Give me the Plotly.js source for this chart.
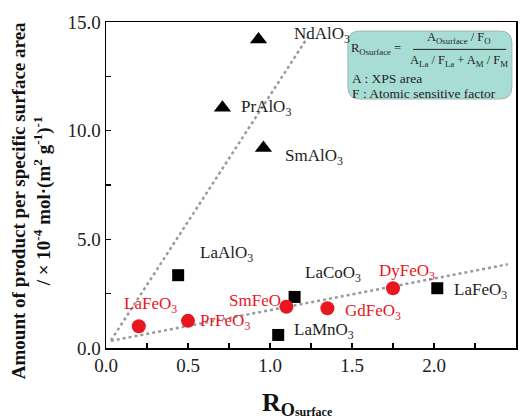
<!DOCTYPE html>
<html>
<head>
<meta charset="utf-8">
<script src="https://cdn.plot.ly/plotly-3.0.1.min.js"></script>
<style>html,body{margin:0;padding:0;background:#fff;}#chart{width:527px;height:420px;}</style>
</head>
<body>
<div id="chart"></div>
<script>
// ---- data ----
const alNames = ['NdAlO<sub>3</sub>', 'PrAlO<sub>3</sub>', 'SmAlO<sub>3</sub>'];
const alX = [0.93, 0.71, 0.96];
const alY = [14.2, 11.05, 9.2];

const sqNames = ['LaAlO<sub>3</sub>', 'LaCoO<sub>3</sub>', 'LaMnO<sub>3</sub>', 'LaFeO<sub>3</sub>'];
const sqX = [0.44, 1.15, 1.05, 2.02];
const sqY = [3.35, 2.35, 0.6, 2.75];

const feNames = ['LaFeO<sub>3</sub>', 'PrFeO<sub>3</sub>', 'SmFeO<sub>3</sub>', 'GdFeO<sub>3</sub>', 'DyFeO<sub>3</sub>'];
const feX = [0.20, 0.50, 1.10, 1.35, 1.75];
const feY = [1.0, 1.25, 1.9, 1.83, 2.75];

const trendAX = [0.03, 1.23];
const trendAY = [0.35, 14.3];
const trendBX = [0.03, 2.45];
const trendBY = [0.33, 3.85];

const xTickVals = [0, 0.5, 1.0, 1.5, 2.0, 2.5];
const yTickVals = [0, 5, 10, 15];

const xTitle = '<b>R<sub>O<span style="font-size:12px">surface</span></sub></b>';
const yTitle = '<b>Amount of product per specific surface area<br>/ × 10<sup>-4</sup> mol·(m<sup>2</sup> g<sup>-1</sup>)<sup>-1</sup></b>';

// ---- styling ----
const SERIF = 'Liberation Serif, Times New Roman, serif';
const RED = '#e8161f';
const INK = '#1e1e1e';

// label offsets in pixels (dx right, dy up)
const alOff = [[33, 4], [17, 0], [20, -9]];
const sqOff = [[20, 21], [8, 23], [14, 4], [15, -3]];
const feOff = [[-17, 21], [10, -1], [-59, 5], [16, -4], [-16, 16]];

const traces = [
  {x: trendAX, y: trendAY, mode: 'lines', line: {color: '#9a9a9a', width: 2.5, dash: 'dot'}, hoverinfo: 'skip', showlegend: false},
  {x: trendBX, y: trendBY, mode: 'lines', line: {color: '#9a9a9a', width: 2.5, dash: 'dot'}, hoverinfo: 'skip', showlegend: false},
  {x: alX, y: alY, mode: 'markers', marker: {symbol: 'triangle-up', size: 15, color: '#000'}, showlegend: false},
  {x: sqX, y: sqY, mode: 'markers', marker: {symbol: 'square', size: 12, color: '#000'}, showlegend: false},
  {x: feX, y: feY, mode: 'markers', marker: {symbol: 'circle', size: 14, color: RED}, showlegend: false}
];

const annotations = [];
function addLabels(names, xs, ys, offs, color) {
  names.forEach((n, i) => {
    annotations.push({
      x: xs[i], y: ys[i], xref: 'x', yref: 'y', text: n, showarrow: false,
      xanchor: 'left', yanchor: 'middle', xshift: offs[i][0], yshift: offs[i][1],
      font: {family: SERIF, size: 17, color: color}
    });
  });
}
addLabels(alNames, alX, alY, alOff, INK);
addLabels(sqNames, sqX, sqY, sqOff, INK);
addLabels(feNames, feX, feY, feOff, RED);

// axis titles
annotations.push(
  {xref: 'paper', yref: 'paper', x: -0.180, y: 0.451, xanchor: 'center', yanchor: 'middle', textangle: -90,
   showarrow: false, text: yTitle, font: {family: SERIF, size: 19, color: '#111'}},
  {xref: 'paper', yref: 'paper', x: 0.468, y: -0.172, xanchor: 'center', yanchor: 'middle',
   showarrow: false, text: xTitle, font: {family: SERIF, size: 26, color: '#111'}}
);

// formula box text
const boxFont = {family: SERIF, size: 12.5, color: INK};
annotations.push(
  {xref: 'paper', yref: 'paper', x: 0.593, y: 0.917, xanchor: 'left', yanchor: 'middle', showarrow: false,
   text: 'R<sub>Osurface</sub> =', font: boxFont},
  {xref: 'paper', yref: 'paper', x: 0.861, y: 0.952, xanchor: 'center', yanchor: 'middle', showarrow: false,
   text: 'A<sub>Osurface</sub> / F<sub>O</sub>', font: boxFont},
  {xref: 'paper', yref: 'paper', x: 0.861, y: 0.880, xanchor: 'center', yanchor: 'middle', showarrow: false,
   text: 'A<sub>La</sub> / F<sub>La</sub> + A<sub>M</sub> / F<sub>M</sub>', font: boxFont},
  {xref: 'paper', yref: 'paper', x: 0.596, y: 0.828, xanchor: 'left', yanchor: 'middle', showarrow: false,
   text: 'A : XPS area', font: {family: SERIF, size: 13.5, color: INK}},
  {xref: 'paper', yref: 'paper', x: 0.596, y: 0.782, xanchor: 'left', yanchor: 'middle', showarrow: false,
   text: 'F : Atomic sensitive factor', font: {family: SERIF, size: 13.5, color: INK}}
);

// rounded rectangle (pixel-sized, centred on anchor)
const hw = 82, hh = 34, r = 12;
const rr = `M ${-hw + r},${-hh} L ${hw - r},${-hh} Q ${hw},${-hh} ${hw},${-hh + r} L ${hw},${hh - r} Q ${hw},${hh} ${hw - r},${hh} L ${-hw + r},${hh} Q ${-hw},${hh} ${-hw},${hh - r} L ${-hw},${-hh + r} Q ${-hw},${-hh} ${-hw + r},${-hh} Z`;

const layout = {
  width: 527, height: 420,
  margin: {l: 106, r: 11, t: 22, b: 72},
  paper_bgcolor: '#fff', plot_bgcolor: '#fff',
  font: {family: SERIF, color: INK},
  showlegend: false,
  xaxis: {
    range: [0, 2.5], tickvals: xTickVals, tickformat: '.1f',
    ticks: 'inside', ticklen: 5, tickwidth: 1.2, tickcolor: '#000',
    minor: {dtick: 0.25, ticks: 'inside', ticklen: 5, tickwidth: 1.2, tickcolor: '#000', showgrid: false},
    showline: true, mirror: true, linecolor: '#000', linewidth: 1.5,
    showgrid: false, zeroline: false,
    tickfont: {family: SERIF, size: 19, color: '#222'}
  },
  yaxis: {
    range: [0, 15], tickvals: yTickVals, tickformat: '.1f',
    ticks: 'inside', ticklen: 5, tickwidth: 1.2, tickcolor: '#000',
    minor: {dtick: 2.5, ticks: 'inside', ticklen: 5, tickwidth: 1.2, tickcolor: '#000', showgrid: false},
    showline: true, mirror: true, linecolor: '#000', linewidth: 1.5,
    showgrid: false, zeroline: false,
    tickfont: {family: SERIF, size: 19, color: '#222'}
  },
  shapes: [
    {type: 'path', xref: 'paper', yref: 'paper', xsizemode: 'pixel', ysizemode: 'pixel',
     xanchor: 0.790, yanchor: 0.868, path: rr,
     fillcolor: '#a8ddd6', line: {color: '#a0b8b4', width: 1}, layer: 'above'},
    {type: 'line', xref: 'paper', yref: 'paper', x0: 0.749, x1: 0.976, y0: 0.916, y1: 0.916,
     line: {color: '#222', width: 1}, layer: 'above'}
  ],
  annotations: annotations
};

Plotly.newPlot('chart', traces, layout, {displayModeBar: false, staticPlot: true});
</script>
</body>
</html>
